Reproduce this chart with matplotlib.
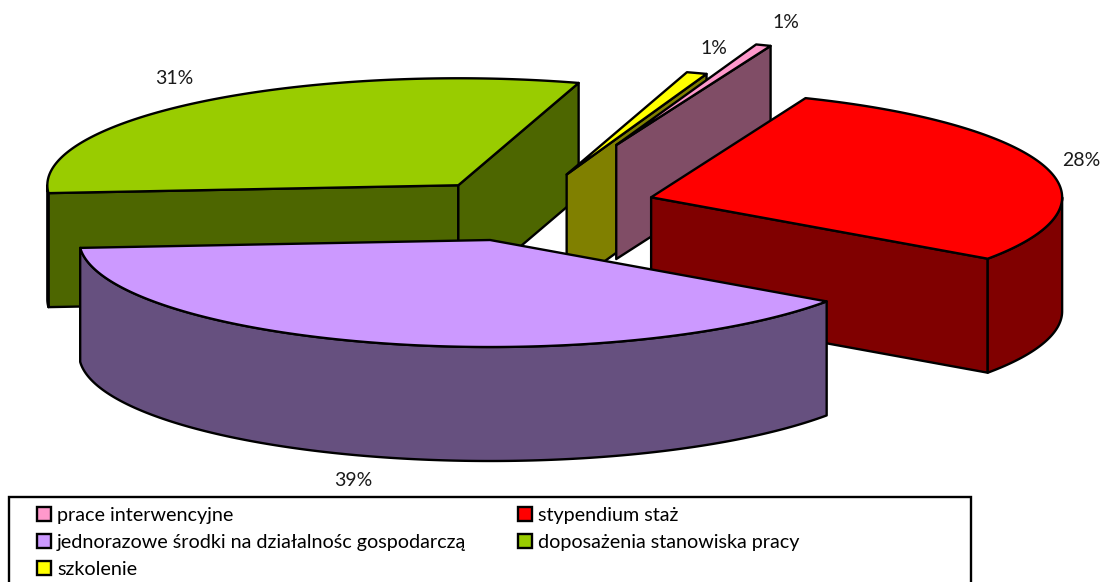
import numpy as np
import matplotlib
matplotlib.use("Agg")
import matplotlib.pyplot as plt
from matplotlib.patches import Patch, Polygon, Rectangle

plt.rcParams['font.family'] = ['Lato', 'DejaVu Sans']

# Data
labels = ["prace interwencyjne", "stypendium staż",
          "jednorazowe środki na działalnośc gospodarczą",
          "doposażenia stanowiska pracy", "szkolenie"]
values = [0.6, 28.6, 39.1, 30.9, 0.8]
valueLabels = ["1%", "28%", "39%", "31%", "1%"]
explode = [0.62, 0.32, 0.32, 0.26, 0.32]
topColors = ["#FF99CC", "#FF0000", "#CC99FF", "#99CC00", "#FFFF00"]
wallColors = ["#804D66", "#800000", "#66507F", "#4D6600", "#808000"]
drawOrder = [3, 4, 0, 1, 2]
labelPos = [(786, 23), (1081, 160), (353, 480), (174, 78), (714, 49)]

# Settings (pixels)
startAngle = 19.9
centerX, centerY = 525, 207
radiusX, radiusY = 411, 107
depth = 114
edge = dict(edgecolor="black", linewidth=1.7, joinstyle="round")


def rim(a, b, ox, oy):
    t = np.radians(np.linspace(a, b, max(int(abs(b - a)) * 2, 2)))
    return np.column_stack((ox + radiusX * np.sin(t), oy - radiusY * np.cos(t)))


def drop(pts):
    return pts + [0, depth]


fig = plt.figure(figsize=(11.01, 5.82), dpi=100)
ax = fig.add_axes([0, 0, 1, 1])
ax.set_xlim(0, 1101)
ax.set_ylim(582, 0)
ax.axis("off")

# angles clockwise from 12 o'clock
sweep = np.array(values) / sum(values) * 360
ends = startAngle + np.cumsum(sweep)
starts = ends - sweep

for i in drawOrder:
    a, b = starts[i], ends[i]
    mid = np.radians((a + b) / 2)
    ox = centerX + explode[i] * radiusX * np.sin(mid)
    oy = centerY - explode[i] * radiusY * np.cos(mid)
    apex = np.array([[ox, oy]])

    # cut faces, only the ones turned to the viewer
    if np.sin(np.radians(a)) < 0:
        e = np.vstack((apex, rim(a, a, ox, oy)[:1]))
        ax.add_patch(Polygon(np.vstack((e, drop(e)[::-1])), facecolor=wallColors[i], **edge))
    if np.sin(np.radians(b)) > 0:
        e = np.vstack((apex, rim(b, b, ox, oy)[:1]))
        ax.add_patch(Polygon(np.vstack((e, drop(e)[::-1])), facecolor=wallColors[i], **edge))

    # outer wall, lower half of the ellipse
    lo, hi = max(a, 90), min(b, 270)
    if hi > lo:
        e = rim(lo, hi, ox, oy)
        ax.add_patch(Polygon(np.vstack((e, drop(e)[::-1])), facecolor=wallColors[i], **edge))

    ax.add_patch(Polygon(np.vstack((apex, rim(a, b, ox, oy))), facecolor=topColors[i], **edge))

for i in range(len(values)):
    ax.text(labelPos[i][0], labelPos[i][1], valueLabels[i], fontsize=14,
            color="#1a1a1a", ha="center", va="center")

# Legend
ax.add_patch(Rectangle((9, 497), 962, 100, facecolor="white", edgecolor="black", linewidth=1.7))
handles = [Patch(facecolor=topColors[i], edgecolor="black", linewidth=1.7) for i in range(5)]
order = [0, 2, 4, 1, 3]
ax.legend([handles[i] for i in order], [labels[i] for i in order], ncol=2,
          loc="upper left", bbox_to_anchor=(27 / 1101, 1 - 497 / 582), frameon=False,
          fontsize=14.2, handlelength=0.72, handleheight=0.72, handletextpad=0.3,
          labelspacing=0.5, columnspacing=2.64, borderpad=0.5, borderaxespad=0)

fig.savefig("out.png", dpi=100)
